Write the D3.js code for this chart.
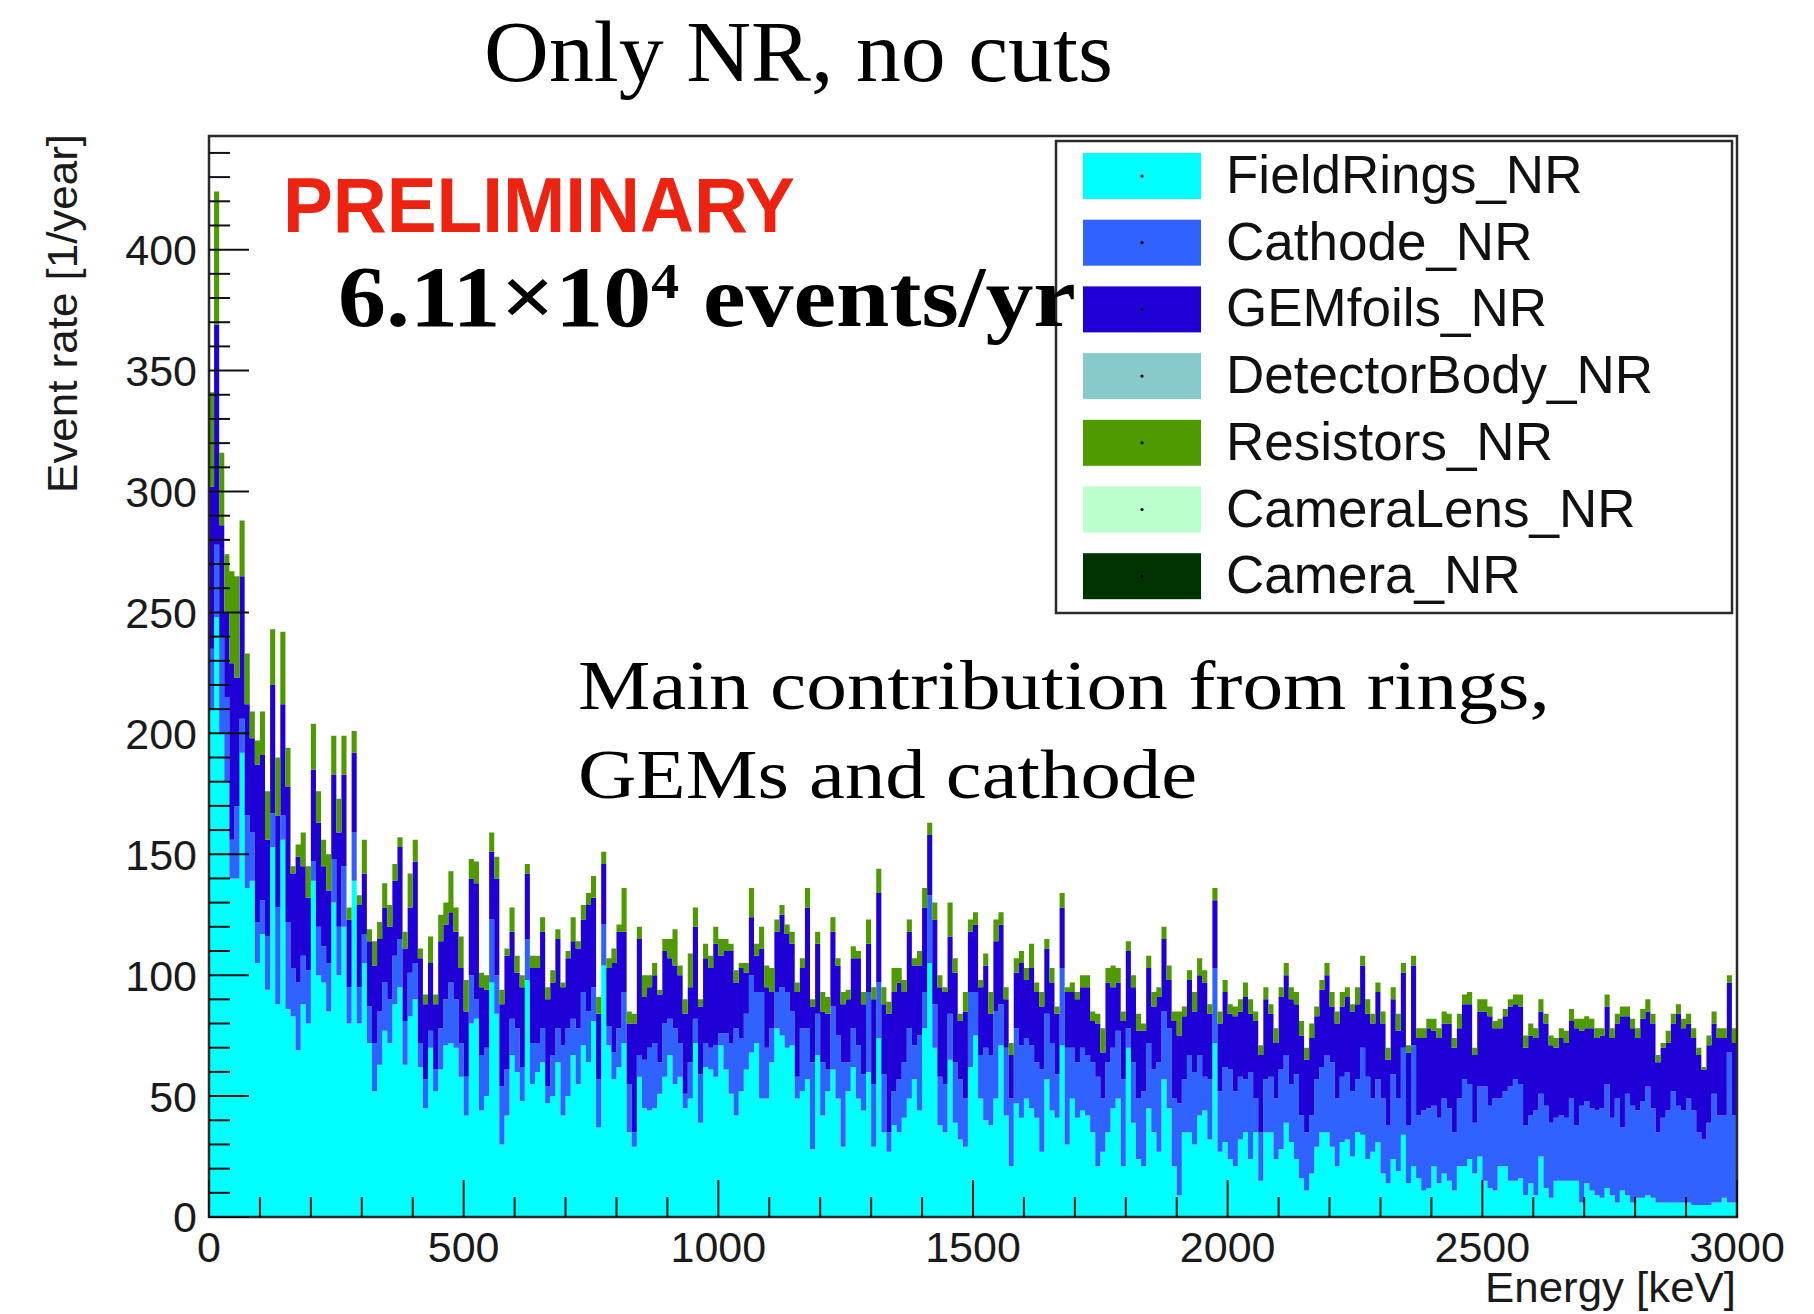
<!DOCTYPE html>
<html>
<head>
<meta charset="utf-8">
<script src="https://cdn.jsdelivr.net/npm/d3@7"></script>
<style>
  html, body { margin: 0; padding: 0; background: #ffffff; }
  svg { display: block; }
</style>
</head>
<body>
<svg id="chart" width="1814" height="1314"></svg>
<script>
// ---- Histogram binning (keV) ----
const energyRange = [0, 3000];
const binWidthKeV = 10;
const yAxisMax = 447;

// ---- Tick labels ----
const xTickLabels = [0, 500, 1000, 1500, 2000, 2500, 3000];
const yTickLabels = [0, 50, 100, 150, 200, 250, 300, 350, 400];

// ---- Stacked components, event rate per 10 keV bin [1/year] ----
const fieldRings = [
  210,248,200,180,140,140,192,136,139,105,
  117,94,153,88,156,86,83,69,88,80,
  139,100,97,85,130,100,120,80,139,80,
  105,72,52,63,77,72,88,95,63,83,
  90,62,45,70,52,61,71,72,70,58,
  42,80,82,44,50,97,84,30,42,67,
  60,48,98,55,60,64,47,50,64,42,
  50,67,55,71,64,81,37,104,71,57,
  62,72,35,29,58,45,44,45,51,58,
  67,55,58,45,49,72,39,62,61,58,
  71,61,51,42,52,61,68,72,49,49,
  64,78,75,70,71,49,52,57,28,67,
  42,52,61,49,29,52,62,49,44,60,
  29,74,35,27,38,35,41,49,57,44,
  78,105,70,38,35,65,39,32,29,62,
  75,49,40,38,49,71,42,21,47,41,
  49,45,41,27,57,44,41,71,30,49,
  41,44,42,35,21,27,35,45,49,21,
  70,39,24,21,45,35,27,57,45,21,
  9,35,35,30,42,44,32,72,27,31,
  24,21,32,35,24,35,15,35,35,24,
  28,39,31,24,16,11,18,29,35,35,
  29,21,31,32,25,35,34,24,27,31,
  18,14,24,19,34,14,21,16,11,12,
  21,14,18,15,11,21,21,24,18,25,
  15,12,11,21,21,15,15,16,9,14,
  9,25,12,8,15,15,15,15,15,6,
  14,11,9,8,12,9,6,11,9,6,
  8,8,9,8,6,6,6,6,6,6,
  6,5,5,5,5,6,6,8,6,6
];
const cathode = [
  25,30,40,35,16,30,14,30,20,17,
  14,22,14,40,10,36,20,28,20,22,
  8,20,15,20,18,20,25,15,20,15,
  12,15,20,22,20,18,20,20,18,18,
  15,10,12,7,9,17,19,25,20,14,
  16,20,8,23,20,26,16,24,19,15,
  18,14,17,17,12,14,7,17,14,29,
  28,15,23,22,21,14,20,17,8,11,
  16,21,20,6,9,20,26,27,13,22,
  15,23,14,6,15,10,20,10,9,13,
  5,15,21,36,22,23,32,21,44,21,
  14,15,20,23,14,9,26,21,36,17,
  22,9,26,26,35,12,16,22,15,33,
  26,23,24,8,14,22,23,29,14,31,
  15,28,18,20,20,19,25,25,20,31,
  18,18,30,29,36,17,28,28,31,30,
  25,26,23,34,27,28,18,32,40,21,
  23,26,25,29,37,22,29,25,28,36,
  8,25,25,31,27,26,37,28,33,28,
  38,22,32,30,25,14,25,31,25,31,
  37,31,26,22,36,14,20,22,23,25,
  33,28,24,35,26,24,24,28,27,32,
  35,28,27,28,27,22,36,34,22,26,
  31,24,35,30,36,24,50,26,33,33,
  25,27,31,30,24,28,36,31,21,29,
  39,34,38,28,31,39,42,39,29,28,
  35,26,34,31,26,27,26,34,23,40,
  34,34,35,37,43,32,43,26,42,40,
  36,40,45,37,29,35,38,46,40,38,
  43,39,30,27,34,45,36,34,62,36
];
const gemFoils = [
  67,91,46,35,73,53,59,46,39,65,
  60,40,53,38,46,56,39,52,37,30,
  38,43,33,30,35,39,38,28,33,34,
  25,27,32,30,31,30,31,38,30,27,
  42,35,31,28,27,36,31,29,28,31,
  27,40,48,28,24,28,40,34,47,36,
  23,33,27,31,31,40,36,30,37,24,
  29,32,33,30,44,37,27,25,24,37,
  40,25,25,45,48,26,25,28,28,30,
  25,26,28,33,31,38,28,35,33,42,
  32,34,38,19,29,17,24,15,18,25,
  15,25,30,24,28,35,25,50,23,29,
  21,23,31,29,24,26,29,36,29,20,
  35,37,29,49,41,40,29,40,33,29,
  35,25,35,37,38,32,37,24,36,25,
  28,28,34,17,29,33,20,18,23,34,
  24,32,29,26,27,25,25,25,23,23,
  26,25,28,17,22,19,33,25,20,24,
  32,31,28,25,31,26,27,30,20,32,
  28,26,31,25,33,39,27,28,28,31,
  23,31,27,34,24,32,32,33,26,23,
  30,33,35,29,33,30,32,26,32,33,
  23,31,29,31,33,31,34,26,31,36,
  31,27,31,28,31,30,33,32,30,33,
  31,33,31,35,35,29,31,33,28,31,
  31,37,29,29,31,33,31,32,32,33,
  30,34,34,32,29,32,31,32,40,31,
  30,33,30,30,32,33,31,46,32,32,
  30,34,31,35,29,29,28,28,38,34,
  31,30,32,29,32,29,32,32,29,30
];
const detectorBody = [];   // no entries above zero in range
const resistors = [
  39,55,30,24,38,42,23,21,11,10,
  18,20,23,24,30,16,3,5,14,13,
  19,13,11,15,16,14,16,5,9,4,
  14,5,10,7,10,9,7,4,7,14,
  9,4,4,11,4,11,9,17,10,13,
  13,8,9,6,6,8,9,6,3,10,
  7,5,4,5,5,6,5,5,4,2,
  3,10,3,6,5,9,7,5,4,6,
  3,18,5,4,5,9,5,5,2,5,
  8,15,4,6,14,8,3,6,5,7,
  7,5,3,5,2,4,12,5,9,9,
  10,5,4,4,5,4,4,8,3,5,
  8,7,6,3,5,4,5,3,5,10,
  5,10,7,5,10,6,5,5,3,6,
  8,5,7,5,2,14,6,3,8,5,
  5,3,5,9,9,5,5,5,6,5,
  5,10,4,6,4,6,3,6,2,4,
  3,5,5,4,4,10,6,9,6,4,
  4,5,7,3,5,6,4,5,6,4,
  10,4,4,8,7,5,4,5,5,5,
  4,4,5,6,6,4,4,5,4,6,
  4,5,5,5,6,5,6,4,4,5,
  6,5,6,4,3,7,4,6,4,4,
  5,5,5,7,4,3,4,4,4,4,
  5,4,5,4,4,6,4,5,3,5,
  5,4,3,4,3,3,4,5,5,5,
  4,5,4,4,4,4,5,5,4,5,
  5,4,4,3,5,4,4,4,4,4,
  4,4,5,4,3,2,5,4,4,4,
  4,4,3,1,4,5,4,4,3,6
];
const cameraLens = [];     // no entries above zero in range
const camera = [];         // no entries above zero in range

// ---- Series names and fill colours (stack order: bottom to top) ----
const seriesNames  = ["FieldRings_NR", "Cathode_NR", "GEMfoils_NR", "DetectorBody_NR", "Resistors_NR", "CameraLens_NR", "Camera_NR"];
const seriesColors = ["#00ffff", "#2f62ff", "#1f00d6", "#88c9c9", "#4e9a00", "#bbffcc", "#003300"];
const seriesValues = [fieldRings, cathode, gemFoils, detectorBody, resistors, cameraLens, camera];

// ---- Layout ----
const plot = { left: 209, right: 1737, top: 136, bottom: 1217 };
const svg = d3.select("#chart");

const x = d3.scaleLinear().domain(energyRange).range([plot.left, plot.right]);
const y = d3.scaleLinear().domain([0, yAxisMax]).range([plot.bottom, plot.top]);

// bin table for the stack
const binLow = d3.range(energyRange[0], energyRange[1], binWidthKeV);
const rows = binLow.map((lo, i) => {
  const r = { lo };
  seriesNames.forEach((name, k) => { r[name] = seriesValues[k][i] ?? 0; });
  return r;
});
const layers = d3.stack().keys(seriesNames)(rows);

svg.append("defs").append("clipPath").attr("id", "plotClip")
  .append("rect")
  .attr("x", plot.left).attr("y", plot.top)
  .attr("width", plot.right - plot.left).attr("height", plot.bottom - plot.top);

const area = d3.area()
  .x(p => x(p.e))
  .y0(p => y(p.y0))
  .y1(p => y(p.y1))
  .curve(d3.curveStepAfter);

const histG = svg.append("g").attr("clip-path", "url(#plotClip)");
layers.forEach((layer, k) => {
  const pts = layer.map(d => ({ e: d.data.lo, y0: d[0], y1: d[1] }));
  const last = pts[pts.length - 1];
  pts.push({ e: energyRange[1], y0: last.y0, y1: last.y1 });
  histG.append("path")
    .attr("d", area(pts))
    .attr("fill", seriesColors[k])
    .attr("stroke", "none");
});

// ---- Frame ----
svg.append("rect")
  .attr("x", plot.left).attr("y", plot.top)
  .attr("width", plot.right - plot.left).attr("height", plot.bottom - plot.top)
  .attr("fill", "none").attr("stroke", "#2a2a2a").attr("stroke-width", 2.5);

// ---- Ticks (drawn inside the frame) ----
const tickG = svg.append("g").attr("stroke", "#111").attr("stroke-width", 2);
d3.range(0, yAxisMax, 10).forEach(v => {
  const major = v % 50 === 0;
  tickG.append("line")
    .attr("x1", plot.left).attr("x2", plot.left + (major ? 40 : 21))
    .attr("y1", y(v)).attr("y2", y(v));
});
d3.range(0, energyRange[1] + 1, 100).forEach(v => {
  const major = v % 500 === 0;
  tickG.append("line")
    .attr("x1", x(v)).attr("x2", x(v))
    .attr("y1", plot.bottom).attr("y2", plot.bottom - (major ? 37 : 20));
});

// ---- Tick labels ----
const sans = "'Liberation Sans', Arial, Helvetica, sans-serif";
const serif = "'Liberation Serif', 'Times New Roman', serif";

svg.append("g").selectAll("text").data(yTickLabels).join("text")
  .attr("x", plot.left - 12)
  .attr("y", d => y(d))
  .attr("dy", "0.36em")
  .attr("text-anchor", "end")
  .attr("font-family", sans).attr("font-size", 43).attr("fill", "#1a1a1a")
  .text(d => d);

svg.append("g").selectAll("text").data(xTickLabels).join("text")
  .attr("x", d => x(d))
  .attr("y", 1262)
  .attr("text-anchor", "middle")
  .attr("font-family", sans).attr("font-size", 43).attr("fill", "#1a1a1a")
  .text(d => d);

// stretch a text horizontally about its anchor so it spans a given width
function fitWidth(sel, anchorX, targetW) {
  const w = sel.node().getBBox().width;
  const s = targetW / w;
  sel.attr("transform", `translate(${anchorX},0) scale(${s},1) translate(${-anchorX},0)`);
}

// ---- Axis titles ----
const xTitle = svg.append("text")
  .attr("x", 1736).attr("y", 1302)
  .attr("text-anchor", "end")
  .attr("font-family", sans).attr("font-size", 42).attr("fill", "#1a1a1a")
  .text("Energy [keV]");
fitWidth(xTitle, 1736, 251);

const yTitle = svg.append("text")
  .attr("text-anchor", "end")
  .attr("font-family", sans).attr("font-size", 42).attr("fill", "#1a1a1a")
  .text("Event rate [1/year]");
{
  const w = yTitle.node().getComputedTextLength();
  yTitle.attr("transform", `translate(77,134) rotate(-90) scale(${359 / w},1)`);
}

// ---- Title ----
const title = svg.append("text")
  .attr("x", 484).attr("y", 81)
  .attr("font-family", serif).attr("font-size", 86).attr("fill", "#000")
  .text("Only NR, no cuts");
fitWidth(title, 484, 629);

// ---- Annotations ----
const prelim = svg.append("text")
  .attr("x", 283).attr("y", 232)
  .attr("font-family", sans).attr("font-weight", "bold")
  .attr("font-size", 77).attr("fill", "#ee2211")
  .text("PRELIMINARY");
fitWidth(prelim, 283, 512);

const note1 = svg.append("text")
  .attr("x", 578).attr("y", 709)
  .attr("font-family", serif).attr("font-size", 69).attr("fill", "#000")
  .text("Main contribution from rings,");
fitWidth(note1, 578, 972);

const note2 = svg.append("text")
  .attr("x", 578).attr("y", 798)
  .attr("font-family", serif).attr("font-size", 69).attr("fill", "#000")
  .text("GEMs and cathode");
fitWidth(note2, 578, 619);

// ---- Legend ----
const legend = { left: 1056, right: 1732, top: 141, bottom: 613 };
const legG = svg.append("g");
legG.append("rect")
  .attr("x", legend.left).attr("y", legend.top)
  .attr("width", legend.right - legend.left).attr("height", legend.bottom - legend.top)
  .attr("fill", "#fff").attr("stroke", "#2a2a2a").attr("stroke-width", 2.5);

seriesNames.forEach((name, i) => {
  const cy = 176 + 66.7 * i;
  legG.append("rect")
    .attr("x", 1083).attr("y", cy - 23)
    .attr("width", 118).attr("height", 46)
    .attr("fill", seriesColors[i]);
  legG.append("circle")
    .attr("cx", 1142).attr("cy", cy).attr("r", 1.6).attr("fill", "#000");
  legG.append("text")
    .attr("x", 1226).attr("y", cy + 17)
    .attr("font-family", sans).attr("font-size", 53).attr("fill", "#111")
    .text(name);
});

// ---- Total rate annotation (drawn above the legend box edge) ----
const total = svg.append("text")
  .attr("x", 338).attr("y", 326)
  .attr("font-family", serif).attr("font-weight", "bold")
  .attr("font-size", 86).attr("fill", "#000");
total.append("tspan").text("6.11\u00d710");
total.append("tspan").attr("font-size", 50).attr("dy", -28).text("4");
total.append("tspan").attr("dy", 28).text(" events/yr");
fitWidth(total, 338, 738);
</script>
</body>
</html>
